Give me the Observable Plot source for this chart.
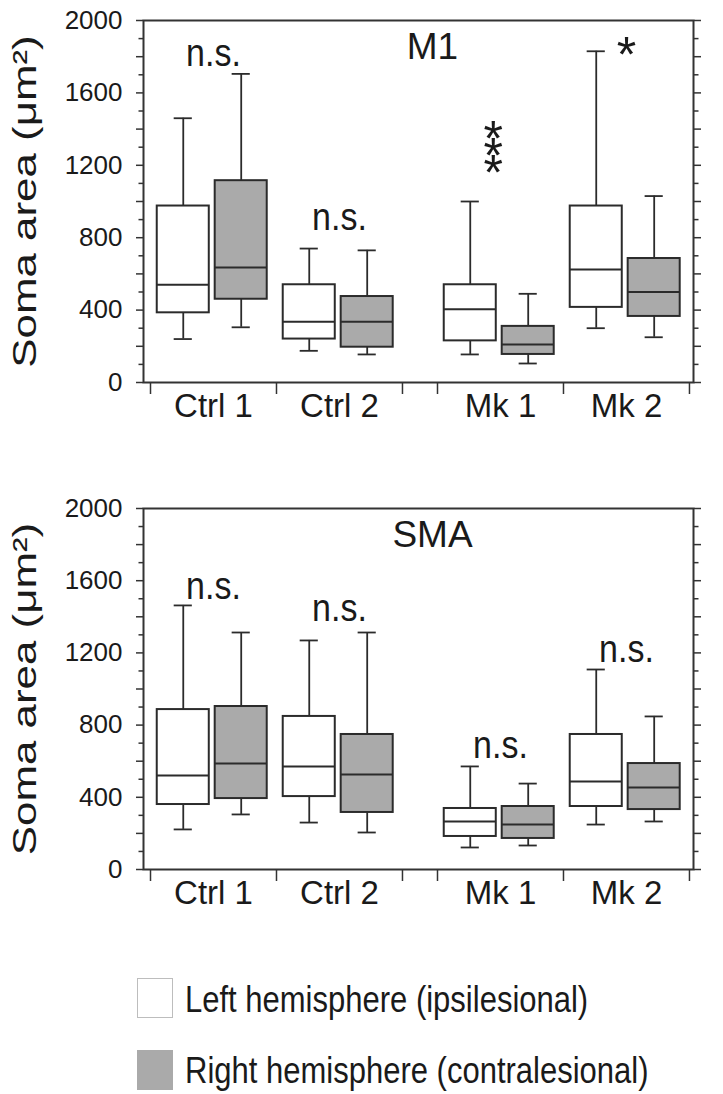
<!DOCTYPE html>
<html>
<head>
<meta charset="utf-8">
<script src="https://cdn.jsdelivr.net/npm/d3@7"></script>
<script src="https://cdn.jsdelivr.net/npm/@observablehq/plot@0.6"></script>
<style>
  html, body { margin: 0; padding: 0; background: #fff; }
  body { width: 723px; font-family: 'Liberation Sans', Arial, Helvetica, sans-serif; color: #1a1a1a; }
  svg { display: block; }
  #legend { position: relative; width: 723px; height: 184px; }
  .sw { position: absolute; left: 137px; width: 36px; height: 40px; box-sizing: border-box; }
  .lt { position: absolute; left: 185px; font-size: 31px; line-height: 31px; white-space: nowrap;
        transform: scaleY(1.2); transform-origin: 0 26px; color: #1a1a1a; }
</style>
</head>
<body>
<div id="chart"></div>
<div id="legend"></div>
<script>
// ---------------- data ----------------
const groups = ["Ctrl 1", "Ctrl 2", "Mk 1", "Mk 2"];
const hemispheres = ["Left hemisphere (ipsilesional)", "Right hemisphere (contralesional)"];
const hemisphereColors = ["#ffffff", "#aaaaaa"];
// each row: [whisker low, Q1, median, Q3, whisker high]  (soma area, µm²)
const m1Left = [
  [240, 385, 540, 975, 1460],
  [175, 240, 335, 540, 740],
  [155, 230, 405, 540, 1000],
  [300, 415, 625, 975, 1830]
];
const m1Right = [
  [305, 460, 635, 1115, 1705],
  [155, 195, 335, 475, 730],
  [105, 155, 210, 310, 490],
  [250, 365, 500, 685, 1030]
];
const smaLeft = [
  [222, 360, 521, 886, 1463],
  [260, 404, 571, 848, 1269],
  [122, 183, 266, 338, 571],
  [249, 349, 488, 748, 1108]
];
const smaRight = [
  [305, 393, 587, 903, 1313],
  [205, 316, 526, 748, 1313],
  [133, 172, 249, 349, 476],
  [266, 332, 454, 587, 848]
];
const m1Notes = ["n.s.", "n.s.", "***", "*"];
const m1NoteY = [1751, 840, 972, 1718];
const smaNotes = ["n.s.", "n.s.", "n.s.", "n.s."];
const smaNoteY = [1501, 1379, 620, 1147];
const yTicksMajor = d3.range(0, 2001, 200);
const yTicksMinor = d3.range(100, 2000, 200);
const yTickLabels = d3.range(0, 2001, 400);
const yTitle = "Soma area (μm²)";

// ---------------- layout ----------------
const FONT = "'Liberation Sans', Arial, Helvetica, sans-serif";
const INK = "#2b2b2b";
const BREAK = 0.278;                 // axis break between Ctrl and Mk groups (in category units)
const groupStart = i => i + (i >= 2 ? BREAK : 0);
const HEMI_OFFSET = [0.26, 0.72];
const BOX_W = 0.413;
const CAP_HALF = 0.072;
const xBoundaries = [0, 1, 2, 2 + BREAK, 3 + BREAK, 4 + BREAK];
const isStack = t => /^\*{2,}$/.test(t);

function panel({left, right, title, notes, noteY, height, marginTop, marginBottom}) {
  const rows = [];
  groups.forEach((g, i) => {
    [left, right].forEach((arr, h) => {
      const [lo, q1, med, q3, hi] = arr[i];
      rows.push({group: g, hemi: hemispheres[h], cx: groupStart(i) + HEMI_OFFSET[h], lo, q1, med, q3, hi});
    });
  });
  const noteRows = notes.map((t, i) => ({text: t, x: groupStart(i) + 0.5, y: noteY[i]}));
  const labelRows = groups.map((g, i) => ({text: g, x: groupStart(i) + 0.5}));

  const svg = Plot.plot({
    width: 723,
    height,
    marginTop,
    marginBottom,
    marginLeft: 143,
    marginRight: 30,
    style: {fontFamily: FONT, background: "#fff", color: "#1a1a1a", overflow: "visible"},
    x: {domain: [-0.0556, 4.31], label: null},
    y: {domain: [0, 2000], label: null},
    color: {type: "ordinal", domain: hemispheres, range: hemisphereColors},
    marks: [
      // whiskers
      Plot.ruleX(rows, {x: "cx", y1: "q3", y2: "hi", stroke: INK, strokeWidth: 1.8}),
      Plot.ruleX(rows, {x: "cx", y1: "lo", y2: "q1", stroke: INK, strokeWidth: 1.8}),
      Plot.ruleY(rows, {y: "hi", x1: d => d.cx - CAP_HALF, x2: d => d.cx + CAP_HALF, stroke: INK, strokeWidth: 1.8}),
      Plot.ruleY(rows, {y: "lo", x1: d => d.cx - CAP_HALF, x2: d => d.cx + CAP_HALF, stroke: INK, strokeWidth: 1.8}),
      // boxes
      Plot.rect(rows, {x1: d => d.cx - BOX_W / 2, x2: d => d.cx + BOX_W / 2, y1: "q1", y2: "q3",
        fill: "hemi", stroke: INK, strokeWidth: 2}),
      Plot.ruleY(rows, {y: "med", x1: d => d.cx - BOX_W / 2, x2: d => d.cx + BOX_W / 2, stroke: INK, strokeWidth: 2}),
      // frame and axes
      Plot.frame({stroke: "#333", strokeWidth: 2}),
      Plot.axisY({anchor: "left", ticks: yTicksMajor, tickSize: 7, text: null, label: null, stroke: "#333", strokeWidth: 1.5}),
      Plot.axisY({anchor: "left", ticks: yTicksMinor, tickSize: 4.5, text: null, label: null, stroke: "#333", strokeWidth: 1.5}),
      Plot.axisY({anchor: "right", ticks: yTicksMajor, tickSize: 7, text: null, label: null, stroke: "#333", strokeWidth: 1.5}),
      Plot.axisY({anchor: "right", ticks: yTicksMinor, tickSize: 4.5, text: null, label: null, stroke: "#333", strokeWidth: 1.5}),
      Plot.axisY({anchor: "left", ticks: yTickLabels, tickSize: 0, tickPadding: 21, label: null,
        tickFormat: d3.format("d"), fontSize: 26, fill: "#1a1a1a"}),
      Plot.axisX({anchor: "bottom", ticks: xBoundaries, tickSize: 12, text: null, label: null, stroke: "#333", strokeWidth: 1.5}),
      // category labels
      Plot.text(labelRows, {x: "x", frameAnchor: "bottom", dy: 24, text: "text", fontSize: 33,
        lineAnchor: "middle", fill: "#1a1a1a"}),
      // significance notes
      Plot.text(noteRows.filter(d => !isStack(d.text)), {x: "x", y: "y", text: "text", lineAnchor: "bottom",
        fontSize: d => d.text === "*" ? 50 : 34, fill: "#1a1a1a"}),
      // stacked asterisks (written top to bottom, glyphs kept upright below)
      Plot.text(noteRows.filter(d => isStack(d.text)), {x: "x", y: "y", text: "text", rotate: 90,
        textAnchor: "end", lineAnchor: "middle", dx: -1, fontSize: 50, fill: "#1a1a1a"}),
      // panel title
      Plot.text([title], {frameAnchor: "top", dx: 14, dy: 38, lineAnchor: "bottom", fontSize: 37, fill: "#1a1a1a"}),
      // y title
      Plot.text([yTitle], {frameAnchor: "left", dx: -118, rotate: -90, fontSize: 33,
        lineAnchor: "middle", textAnchor: "middle", fill: "#1a1a1a"})
    ]
  });
  // stretch / tighten some texts as in the original figure
  svg.querySelectorAll("text").forEach(t => {
    const tr = t.getAttribute("transform") || "";
    if (t.textContent === yTitle) t.setAttribute("transform", tr + " scale(1.33,1)");
    else if (t.textContent === "n.s.") t.setAttribute("transform", tr + " scale(1,1.15)");
    else if (isStack(t.textContent)) {
      t.setAttribute("rotate", "-90");
      t.style.letterSpacing = "-2.5px";
    }
  });
  return svg;
}

const chart = document.getElementById("chart");
chart.appendChild(panel({left: m1Left, right: m1Right, title: "M1", notes: m1Notes, noteY: m1NoteY,
  height: 455, marginTop: 20, marginBottom: 73}));
chart.appendChild(panel({left: smaLeft, right: smaRight, title: "SMA", notes: smaNotes, noteY: smaNoteY,
  height: 455, marginTop: 53, marginBottom: 41}));

// legend
const legend = document.getElementById("legend");
hemispheres.forEach((h, i) => {
  const sw = document.createElement("div");
  sw.className = "sw";
  sw.style.top = (68 + i * 72) + "px";
  sw.style.background = hemisphereColors[i];
  sw.style.border = i === 0 ? "1.5px solid #bdbdbd" : "none";
  legend.appendChild(sw);
  const t = document.createElement("div");
  t.className = "lt";
  t.style.top = (76 + i * 71) + "px";
  t.textContent = h;
  legend.appendChild(t);
});
</script>
</body>
</html>
